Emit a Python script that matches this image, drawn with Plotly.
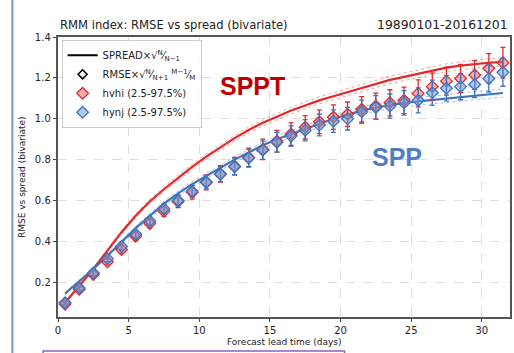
import plotly.graph_objects as go

lead_days = [0.5 + i for i in range(32)]

# spread (solid lines)
spread_hvhi = [0.10, 0.18, 0.265, 0.355, 0.445, 0.525, 0.595, 0.655, 0.71, 0.765, 0.815, 0.86,
               0.905, 0.945, 0.98, 1.01, 1.04, 1.065, 1.09, 1.11, 1.13, 1.15, 1.17, 1.19,
               1.205, 1.22, 1.235, 1.25, 1.26, 1.268, 1.274, 1.278]
spread_hynj = [0.145, 0.205, 0.265, 0.33, 0.40, 0.465, 0.525, 0.585, 0.635, 0.68, 0.72, 0.76,
               0.80, 0.835, 0.87, 0.90, 0.925, 0.95, 0.975, 1.0, 1.02, 1.04, 1.055, 1.067,
               1.077, 1.085, 1.092, 1.098, 1.105, 1.112, 1.119, 1.126]
# half width of the faint band around spread lines
spread_band = [0.006, 0.006, 0.007, 0.008, 0.009, 0.01, 0.011, 0.012, 0.012, 0.013, 0.013, 0.014,
               0.014, 0.015, 0.015, 0.016, 0.016, 0.016, 0.017, 0.017, 0.017, 0.018, 0.018, 0.018,
               0.018, 0.019, 0.019, 0.019, 0.019, 0.02, 0.02, 0.02]

# RMSE (diamond markers)
rmse_hvhi = [0.093, 0.166, 0.238, 0.30, 0.36, 0.425, 0.488, 0.548, 0.595, 0.64, 0.688, 0.73,
             0.768, 0.81, 0.85, 0.89, 0.925, 0.958, 0.985, 1.008, 1.022, 1.046, 1.062, 1.078,
             1.09, 1.124, 1.157, 1.184, 1.197, 1.214, 1.247, 1.274]
rmse_hynj = [0.10, 0.172, 0.245, 0.315, 0.375, 0.435, 0.50, 0.56, 0.60, 0.645, 0.69, 0.728,
             0.765, 0.808, 0.846, 0.885, 0.915, 0.944, 0.969, 0.988, 1.0, 1.034, 1.055, 1.062,
             1.078, 1.09, 1.127, 1.149, 1.157, 1.168, 1.197, 1.227]
err_hvhi = [0.008, 0.01, 0.012, 0.015, 0.018, 0.02, 0.023, 0.026, 0.03, 0.033, 0.036, 0.04,
            0.043, 0.046, 0.05, 0.053, 0.055, 0.057, 0.058, 0.06, 0.06, 0.062, 0.063, 0.064,
            0.065, 0.066, 0.067, 0.068, 0.069, 0.07, 0.072, 0.075]
err_hynj = [0.007, 0.009, 0.011, 0.014, 0.016, 0.018, 0.021, 0.024, 0.027, 0.03, 0.033, 0.036,
            0.039, 0.042, 0.045, 0.048, 0.05, 0.052, 0.053, 0.055, 0.055, 0.057, 0.058, 0.059,
            0.06, 0.061, 0.062, 0.063, 0.064, 0.065, 0.066, 0.068]

x_ticks = [0, 5, 10, 15, 20, 25, 30]
y_ticks = [0.2, 0.4, 0.6, 0.8, 1.0, 1.2, 1.4]

RED = "#e3282c"
BLUE = "#3d74bf"
FONT = "DejaVu Sans"

fig = go.Figure()

for mid, col in [(spread_hvhi, RED), (spread_hynj, BLUE)]:
    for sgn in (1, -1):
        fig.add_trace(go.Scatter(
            x=lead_days, y=[m + sgn * b for m, b in zip(mid, spread_band)],
            mode="lines", line=dict(color=col, width=0.8, dash="dot"),
            opacity=0.55, showlegend=False, hoverinfo="skip"))
    fig.add_trace(go.Scatter(x=lead_days, y=mid, mode="lines",
                             line=dict(color=col, width=2.2), showlegend=False))

# legend dummies
fig.add_trace(go.Scatter(x=[None], y=[None], mode="lines", line=dict(color="black", width=2),
                         name="SPREAD×√<sup>N</sup>⁄<sub>N−1</sub>"))
fig.add_trace(go.Scatter(x=[None], y=[None], mode="markers",
                         marker=dict(symbol="diamond-open", color="black", size=7, line=dict(width=1.5)),
                         name="RMSE×√<sup>N</sup>⁄<sub>N+1</sub> <sup>M−1</sup>⁄<sub>M</sub>"))

for y, e, col, fill, nm in [(rmse_hvhi, err_hvhi, RED, "rgba(235,110,110,0.55)", "hvhi (2.5-97.5%)"),
                            (rmse_hynj, err_hynj, BLUE, "rgba(110,155,215,0.55)", "hynj (2.5-97.5%)")]:
    fig.add_trace(go.Scatter(
        x=lead_days, y=y, mode="markers", name=nm,
        marker=dict(symbol="diamond", size=9, color=fill, line=dict(color=col, width=1.3)),
        error_y=dict(type="data", array=e, visible=True, color=col, thickness=1.3, width=2.5)))

fig.update_layout(
    width=514, height=353,
    margin=dict(l=58, r=2, t=37, b=36),
    paper_bgcolor="white", plot_bgcolor="white",
    font=dict(family=FONT, size=10, color="#222"),
    legend=dict(x=0.008, y=0.99, xanchor="left", yanchor="top",
                bgcolor="rgba(255,255,255,0.85)", bordercolor="#cccccc", borderwidth=1,
                font=dict(size=10, family=FONT, color="#222"), tracegroupgap=0,
                itemwidth=30),
    xaxis=dict(range=[0, 32], tickvals=x_ticks, ticks="outside", ticklen=3.5, tickcolor="#444",
               showline=True, linecolor="#555", linewidth=1.5, mirror=True,
               showgrid=True, gridcolor="#dddddd", griddash="dash", gridwidth=0.8,
               zeroline=False, tickfont=dict(size=10)),
    yaxis=dict(range=[0.03, 1.4], tickvals=y_ticks, ticktext=[f"{v:.1f}" for v in y_ticks],
               ticks="outside", ticklen=3.5, tickcolor="#444",
               showline=True, linecolor="#555", linewidth=1.5, mirror=True,
               showgrid=True, gridcolor="#dddddd", griddash="dash", gridwidth=0.8,
               zeroline=False, tickfont=dict(size=10)),
    annotations=[
        dict(text="RMM index: RMSE vs spread (bivariate)", xref="paper", yref="paper",
             x=0, y=1, xanchor="left", yanchor="bottom", yshift=3, showarrow=False,
             font=dict(size=11.6, family=FONT, color="#222")),
        dict(text="19890101-20161201", xref="paper", yref="paper",
             x=1, y=1, xanchor="right", yanchor="bottom", yshift=3, showarrow=False,
             font=dict(size=12.4, family=FONT, color="#222")),
        dict(text="Forecast lead time (days)", xref="paper", yref="paper",
             x=0.5, y=0, xanchor="center", yanchor="top", yshift=-18, showarrow=False,
             font=dict(size=9, family=FONT, color="#222")),
        dict(text="RMSE vs spread (bivariate)", xref="paper", yref="paper",
             x=0, y=0.5, xanchor="right", yanchor="middle", xshift=-29, textangle=-90,
             showarrow=False, font=dict(size=9, family=FONT, color="#222")),
        dict(text="<b>SPPT</b>", x=13.8, y=1.16, showarrow=False,
             font=dict(size=25, family="Liberation Sans", color="#c00000")),
        dict(text="<b>SPP</b>", x=24.0, y=0.815, showarrow=False,
             font=dict(size=25, family="Liberation Sans", color="#4f7fc0")),
    ],
    shapes=[
        dict(type="line", xref="paper", yref="paper", x0=-0.101, x1=-0.101, y0=-0.2, y1=1.2,
             line=dict(color="#7a9acb", width=2)),
        dict(type="rect", xref="paper", yref="paper", x0=-0.033, x1=0.634, y0=-0.121, y1=-0.2,
             line=dict(color="#8a63c2", width=1.5)),
    ],
)

fig.write_html("out.html", config={"displayModeBar": False},
               post_script="document.body.style.margin='0';document.body.style.overflow='hidden';")
